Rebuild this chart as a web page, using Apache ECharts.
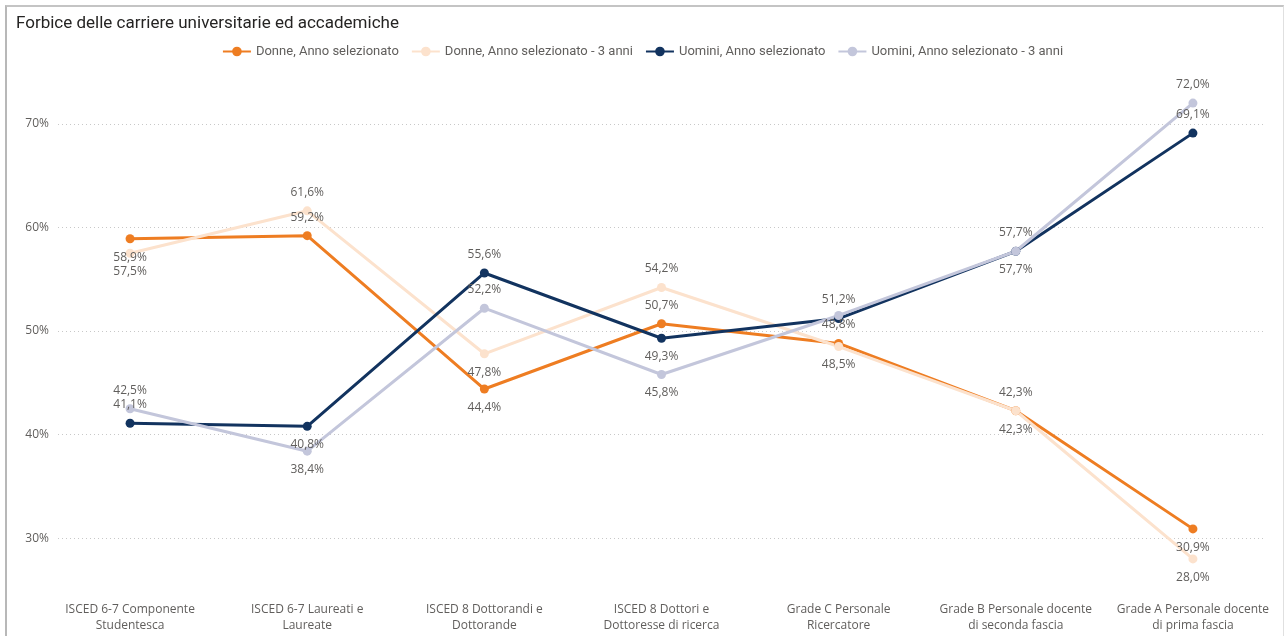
<!DOCTYPE html>
<html>
<head>
<meta charset="utf-8">
<script src="https://cdn.jsdelivr.net/npm/echarts@6/dist/echarts.min.js"></script>
<style>
  html, body { margin: 0; padding: 0; background: #fff; }
  #chart { width: 1285px; height: 636px; }
  #frame {
    position: absolute; left: 5px; top: 5px; width: 1276px; height: 640px;
    border-left: 2px solid #b8b8b8; border-top: 2px solid #c4c4c4; border-right: 1px solid #e0e0e0;
    pointer-events: none;
  }
</style>
</head>
<body>
<div id="chart"></div>
<div id="frame"></div>
<script>
  // categorie asse X
  const categorie = [
    'ISCED 6-7 Componente\nStudentesca',
    'ISCED 6-7 Laureati e\nLaureate',
    'ISCED 8 Dottorandi e\nDottorande',
    'ISCED 8 Dottori e\nDottoresse di ricerca',
    'Grade C Personale\nRicercatore',
    'Grade B Personale docente\ndi seconda fascia',
    'Grade A Personale docente\ndi prima fascia'
  ];

  // valori (%)
  const donneSel = [58.9, 59.2, 44.4, 50.7, 48.8, 42.3, 30.9];
  const donne3 = [57.5, 61.6, 47.8, 54.2, 48.5, 42.3, 28.0];
  const uominiSel = [41.1, 40.8, 55.6, 49.3, 51.2, 57.7, 69.1];
  const uomini3 = [42.5, 38.4, 52.2, 45.8, 51.5, 57.7, 72.0];

  // range asse Y
  const yMin = 25;
  const yMax = 75;

  // posizione etichette (null = nascosta)
  const posDonneSel = ['bottom', 'top', 'bottom', 'top', 'top', 'top', 'bottom'];
  const posDonne3 = ['bottom', 'top', 'bottom', 'top', 'bottom', 'bottom', 'bottom'];
  const posUominiSel = ['top', 'bottom', 'top', 'bottom', 'top', 'top', 'top'];
  const posUomini3 = ['top', 'bottom', 'top', 'bottom', null, 'bottom', 'top'];

  const grigio = '#605E5C';
  const fmt = v => v.toFixed(1).replace('.', ',') + '%';

  function serie(name, values, pos, color) {
    return {
      name: name,
      type: 'line',
      xAxisIndex: 0,
      yAxisIndex: 0,
      symbol: 'circle',
      symbolSize: 9,
      lineStyle: { width: 3, color: color },
      itemStyle: { color: color },
      emphasis: { disabled: true },
      label: {
        distance: 8,
        color: grigio,
        fontSize: 12,
        fontFamily: 'Open Sans',
        formatter: p => fmt(p.value)
      },
      data: values.map((v, i) => ({
        value: v,
        label: { show: pos[i] !== null, position: pos[i] || 'top' }
      }))
    };
  }

  const myChart = echarts.init(document.getElementById('chart'));
  myChart.setOption({
    animation: false,
    title: {
      text: 'Forbice delle carriere universitarie ed accademiche',
      left: 11,
      top: 10,
      textStyle: { fontFamily: 'Roboto', fontSize: 17, fontWeight: 'normal', color: '#252423' }
    },
    legend: {
      top: 40,
      left: 'center',
      itemWidth: 28,
      itemHeight: 12,
      itemGap: 12,
      textStyle: { fontFamily: 'Roboto', fontSize: 13, color: grigio },
      data: ['Donne, Anno selezionato', 'Donne, Anno selezionato - 3 anni',
             'Uomini, Anno selezionato', 'Uomini, Anno selezionato - 3 anni']
    },
    grid: [
      { left: 41.5, right: 3.5, top: 72, bottom: 46 },   // serie
      { left: 58, right: 22, top: 72, bottom: 46 }       // griglia / etichette Y
    ],
    xAxis: [
      {
        type: 'category',
        gridIndex: 0,
        data: categorie,
        axisLine: { show: false },
        axisTick: { show: false },
        axisLabel: { interval: 0, color: grigio, fontSize: 12, lineHeight: 16, margin: 12, fontFamily: 'Open Sans' }
      },
      { type: 'value', gridIndex: 1, show: false, min: 0, max: 1 }
    ],
    yAxis: [
      { type: 'value', gridIndex: 0, min: yMin, max: yMax, show: false },
      {
        type: 'value',
        gridIndex: 1,
        min: yMin,
        max: yMax,
        axisLine: { show: false },
        axisTick: { show: false },
        axisLabel: {
          formatter: '{value}%', color: grigio, fontSize: 12, margin: 9, fontFamily: 'Open Sans',
          showMinLabel: false, showMaxLabel: false
        },
        splitLine: {
          show: true, showMinLine: false, showMaxLine: false,
          lineStyle: { type: [1, 3], color: '#c8c8c8' }
        }
      }
    ],
    series: [
      serie('Donne, Anno selezionato', donneSel, posDonneSel, '#EE7D22'),
      serie('Donne, Anno selezionato - 3 anni', donne3, posDonne3, '#FCE2CD'),
      serie('Uomini, Anno selezionato', uominiSel, posUominiSel, '#12335F'),
      serie('Uomini, Anno selezionato - 3 anni', uomini3, posUomini3, '#C3C6DB')
    ]
  });
</script>
</body>
</html>
